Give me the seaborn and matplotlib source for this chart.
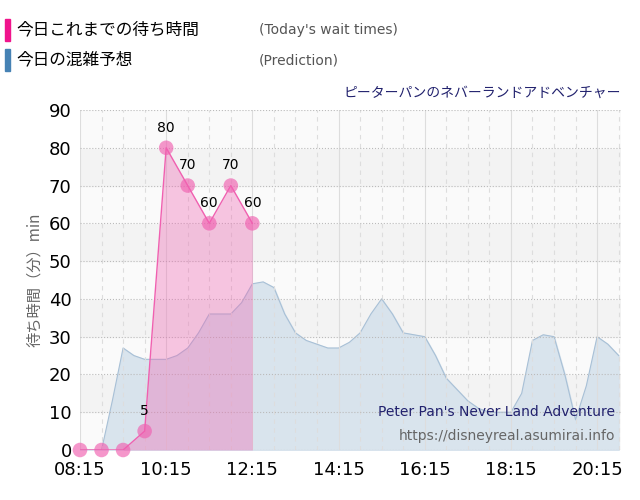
import matplotlib.pyplot as plt
import matplotlib.patches as mpatches
import numpy as np
import pandas as pd
import seaborn as sns

plt.rcParams["font.family"] = ["DejaVu Sans", "Noto Sans CJK JP"]

# today's actual wait times (every 30 min from 08:15)
actual_times = ["08:15", "08:45", "09:15", "09:45", "10:15", "10:45", "11:15", "11:45", "12:15"]
actual_wait = [0, 0, 0, 5, 80, 70, 60, 70, 60]

# prediction (every 15 min from 08:15)
pred_wait = [0, 0, 0, 13, 27, 25, 24, 24, 24, 25, 27, 31, 36, 36, 36, 39, 44, 44.5,
             43, 36, 31, 29, 28, 27, 27, 28.5, 31, 36, 40, 36, 31, 30.5, 30, 25, 19,
             16, 13, 11, 10, 10, 10, 15, 29, 30.5, 30, 20, 8, 17, 30, 28, 25]

tick_labels = ["08:15", "10:15", "12:15", "14:15", "16:15", "18:15", "20:15"]


def to_hours(s):
    h, m = s.split(":")
    return int(h) + int(m) / 60


act = pd.DataFrame({"t": [to_hours(s) for s in actual_times], "wait": actual_wait})
pred = pd.DataFrame({"t": 8.25 + 0.25 * np.arange(len(pred_wait)), "wait": pred_wait})

pink = "#f060b0"
blue_fill = "#d6e2ec"
blue_edge = "#a8c0d6"
jp = "Noto Sans CJK JP"

fig = plt.figure(figsize=(6.4, 5), dpi=100)
ax = fig.add_axes([0.125, 0.1, 0.845, 0.68])

# alternating background bands
for i in range(9):
    ax.axhspan(i * 10, (i + 1) * 10, color="#f3f3f3" if i % 2 else "#fafafa", zorder=0)

ax.fill_between(pred["t"], pred["wait"], color=blue_fill, alpha=0.9, zorder=1)
sns.lineplot(data=pred, x="t", y="wait", color=blue_edge, lw=0.8, ax=ax, zorder=2)

ax.fill_between(act["t"], act["wait"], color=pink, alpha=0.35, lw=0, zorder=3)
sns.lineplot(data=act, x="t", y="wait", color=pink, lw=1, ax=ax, zorder=4)
sc = sns.scatterplot(data=act, x="t", y="wait", color=pink, s=110, alpha=0.65,
                     edgecolor="none", ax=ax, zorder=5, clip_on=False)
for t, w in zip(act["t"], act["wait"]):
    if w > 0:
        ax.text(t, w + 3.5, str(w), ha="center", va="bottom", fontsize=10, zorder=6)

ax.set_xlim(8.25, 20.8)
ax.set_ylim(0, 90)
ax.set_xticks([to_hours(s) for s in tick_labels])
ax.set_xticklabels(tick_labels, fontsize=13)
ax.set_xticks(np.arange(8.75, 20.8, 0.5), minor=True)
ax.set_yticks(range(0, 91, 10))
ax.tick_params(axis="y", labelsize=13, length=0, pad=6)
ax.tick_params(axis="x", length=0, which="both", pad=8)
ax.grid(axis="y", ls=":", color="#bbbbbb", lw=0.8)
ax.grid(axis="x", which="minor", ls=(0, (4, 4)), color="#dddddd", lw=0.8)
ax.grid(axis="x", which="major", ls="-", color="#dddddd", lw=0.8)
ax.set_axisbelow(False)
for s in ax.spines.values():
    s.set_visible(False)
ax.set_xlabel("")
ax.set_ylabel("待ち時間（分）min", fontsize=11, color="#666666", fontfamily=jp)

ax.text(1.0, 1.03, "ピーターパンのネバーランドアドベンチャー", transform=ax.transAxes,
        ha="right", va="bottom", fontsize=10, color="#22226e", fontfamily=jp)
ax.text(0.99, 0.09, "Peter Pan's Never Land Adventure", transform=ax.transAxes,
        ha="right", va="bottom", fontsize=10, color="#22226e", zorder=7)
ax.text(0.99, 0.02, "https://disneyreal.asumirai.info", transform=ax.transAxes,
        ha="right", va="bottom", fontsize=10, color="#666666", zorder=7)

# legend at the top
fig.patches.append(mpatches.Rectangle((0.008, 0.918), 0.008, 0.044, color="#f0148c",
                                      transform=fig.transFigure))
fig.patches.append(mpatches.Rectangle((0.008, 0.858), 0.008, 0.044, color="#4682b4",
                                      transform=fig.transFigure))
fig.text(0.025, 0.94, "今日これまでの待ち時間", fontsize=12, va="center", fontfamily=jp)
fig.text(0.025, 0.88, "今日の混雑予想", fontsize=12, va="center", fontfamily=jp)
fig.text(0.405, 0.94, "(Today's wait times)", fontsize=10, va="center", color="#555555")
fig.text(0.405, 0.88, "(Prediction)", fontsize=10, va="center", color="#555555")

fig.savefig("out.png", dpi=100)
